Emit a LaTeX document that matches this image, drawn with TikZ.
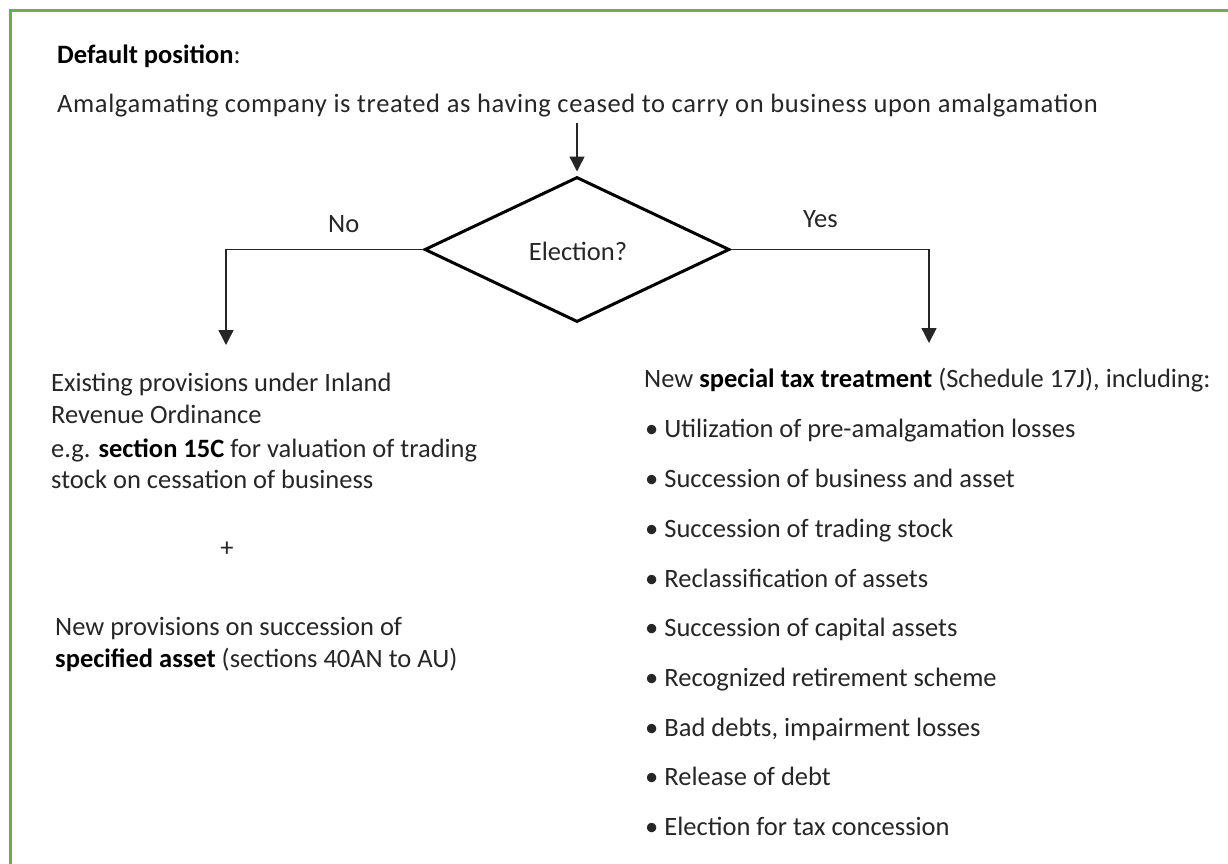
\documentclass[tikz,border=0pt]{standalone}
\usepackage{fontspec}
\setmainfont{Carlito}
\usetikzlibrary{shapes.geometric,arrows.meta}
\definecolor{frame}{HTML}{70AD47}
\definecolor{ink}{HTML}{262626}
\tikzset{
  txt/.style={anchor=base west, inner sep=0pt, text=ink, font=\fontsize{26.5}{32.3}\selectfont},
  arr/.style={draw=ink, line width=1.4pt, -{Triangle[width=15pt,length=15pt]}},
  dec/.style={diamond, draw=black, line width=3pt, minimum width=305pt, minimum height=145pt, inner sep=0pt, text=ink, font=\fontsize{26.5}{32.3}\selectfont}
}
\begin{document}
\begin{tikzpicture}[x=1pt,y=-1pt]
\useasboundingbox (0,0) rectangle (1228,863);
\draw[frame, line width=3pt] (10,870) -- (10,10) -- (1235,10);

\node[txt] (def) at (57,63) {\textbf{\color{black}Default position}:};
\node[txt] (amal) at (57,112) {\addfontfeature{LetterSpace=2.4}Amalgamating company is treated as having ceased to carry on business upon amalgamation};
\coordinate (top) at (577,123);
\node[dec] (d) at (577,249.5) {};
\node[txt, anchor=base] (el) at (578,260) {Election?};
\draw[arr, shorten >=4pt] (top) -- (d.north);

\coordinate (noend) at (226,345);
\coordinate (yesend) at (929,343);
\draw[arr] (d.west) -| (noend);
\draw[arr] (d.east) -| (yesend);
\node[txt] (no) at (328,232) {No};
\node[txt] (yes) at (803,227) {Yes};

\node[txt] (l1) at (51,391) {Existing provisions under Inland};
\node[txt] (l2) at (51,423) {Revenue Ordinance};
\node[txt] (l3) at (51,457) {e.g. \textbf{\color{black}section 15C} for valuation of trading};
\node[txt] (l4) at (51,488) {stock on cessation of business};
\node[txt, anchor=center] (plus) at (227,549) {+};
\node[txt] (l5) at (55,635) {New provisions on succession of};
\node[txt] (l6) at (55,667) {\textbf{\color{black}specified asset} (sections 40AN to AU)};

\node[txt] (r0) at (644,387) {New \textbf{\color{black}special tax treatment} (Schedule 17J), including:};
\node[txt] (r1) at (645,437) {\textbullet\ Utilization of pre-amalgamation losses};
\node[txt] (r2) at (645,487) {\textbullet\ Succession of business and asset};
\node[txt] (r3) at (645,537) {\textbullet\ Succession of trading stock};
\node[txt] (r4) at (645,587) {\textbullet\ Reclassification of assets};
\node[txt] (r5) at (645,636) {\textbullet\ Succession of capital assets};
\node[txt] (r6) at (645,686) {\textbullet\ Recognized retirement scheme};
\node[txt] (r7) at (645,736) {\textbullet\ Bad debts, impairment losses};
\node[txt] (r8) at (645,785) {\textbullet\ Release of debt};
\node[txt] (r9) at (645,835) {\textbullet\ Election for tax concession};
\end{tikzpicture}
\end{document}
